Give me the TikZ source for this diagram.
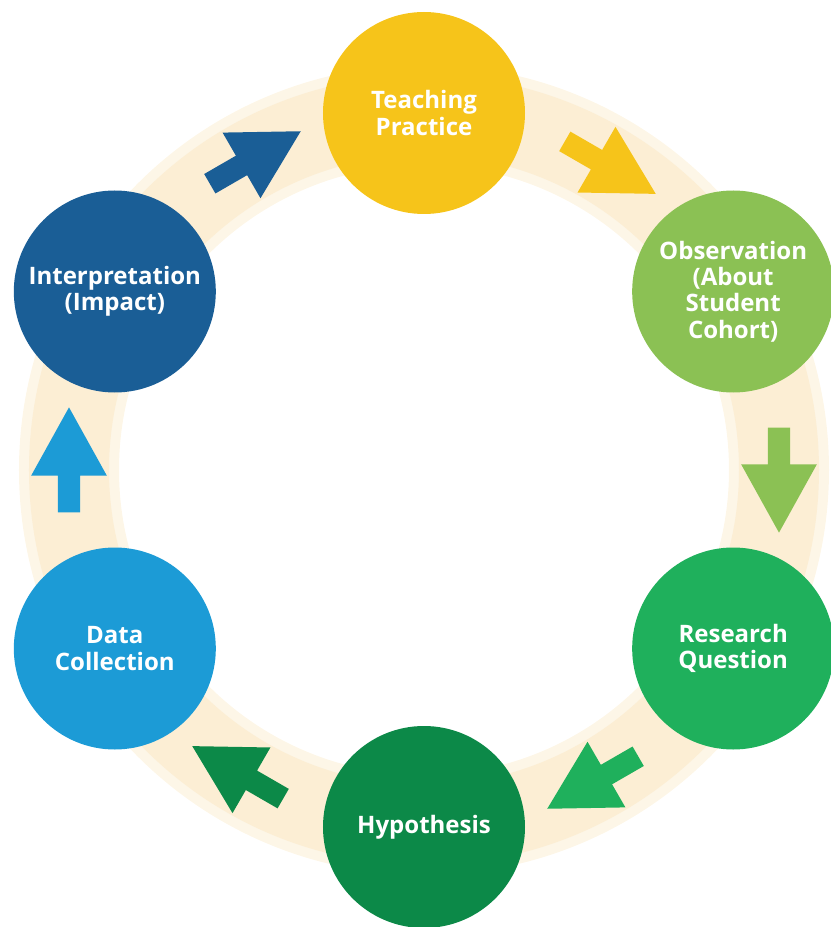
\documentclass[tikz,border=0pt]{standalone}
\usepackage{fontspec}
\setmainfont{Open Sans}
\usetikzlibrary{shapes.arrows}
\definecolor{ring}{RGB}{252,238,212}
\definecolor{teach}{RGB}{246,196,26}
\definecolor{obsv}{RGB}{139,193,84}
\definecolor{quest}{RGB}{31,176,92}
\definecolor{hypo}{RGB}{12,137,72}
\definecolor{datac}{RGB}{28,155,214}
\definecolor{interp}{RGB}{26,94,150}
\tikzset{
  stage/.style={circle, minimum size=60.6mm, inner sep=0pt, text=white,
    align=center, font=\bfseries\fontsize{20.5}{22.5}\selectfont},
  flow/.style={single arrow, minimum height=31.5mm, inner xsep=0pt,
    inner ysep=3.3mm, single arrow head extend=8mm, single arrow tip angle=58}
}

\begin{document}
\begin{tikzpicture}[x=0.3mm,y=0.3mm]
\useasboundingbox (-424,-457) rectangle (407,470);
% ring behind the stages
\draw[line width=30mm, ring!55] (0,0) circle (355);
\draw[line width=24mm, ring] (0,0) circle (355);
% the six stages
\node[stage, fill=teach] (tp) at (90:357) {Teaching\\Practice};
\node[stage, fill=obsv] (obs) at (30:357) {Observation\\(About\\Student\\Cohort)};
\node[stage, fill=quest] (rq) at (-30:357) {Research\\Question};
\node[stage, fill=hypo] (hyp) at (-90:357) {Hypothesis};
\node[stage, fill=datac] (dc) at (-150:357) {Data\\Collection};
\node[stage, fill=interp] (int) at (150:357) {Interpretation\\(Impact)};
% arrows on the ring, clockwise
\node[flow, fill=teach, rotate=-30] (a1) at (60:355) {};
\node[flow, fill=obsv, rotate=-90] (a2) at (0:355) {};
\node[flow, fill=quest, rotate=-150] (a3) at (-60:355) {};
\node[flow, fill=hypo, rotate=150] (a4) at (-120:355) {};
\node[flow, fill=datac, rotate=90] (a5) at (180:355) {};
\node[flow, fill=interp, rotate=30] (a6) at (120:355) {};
\end{tikzpicture}
\end{document}
